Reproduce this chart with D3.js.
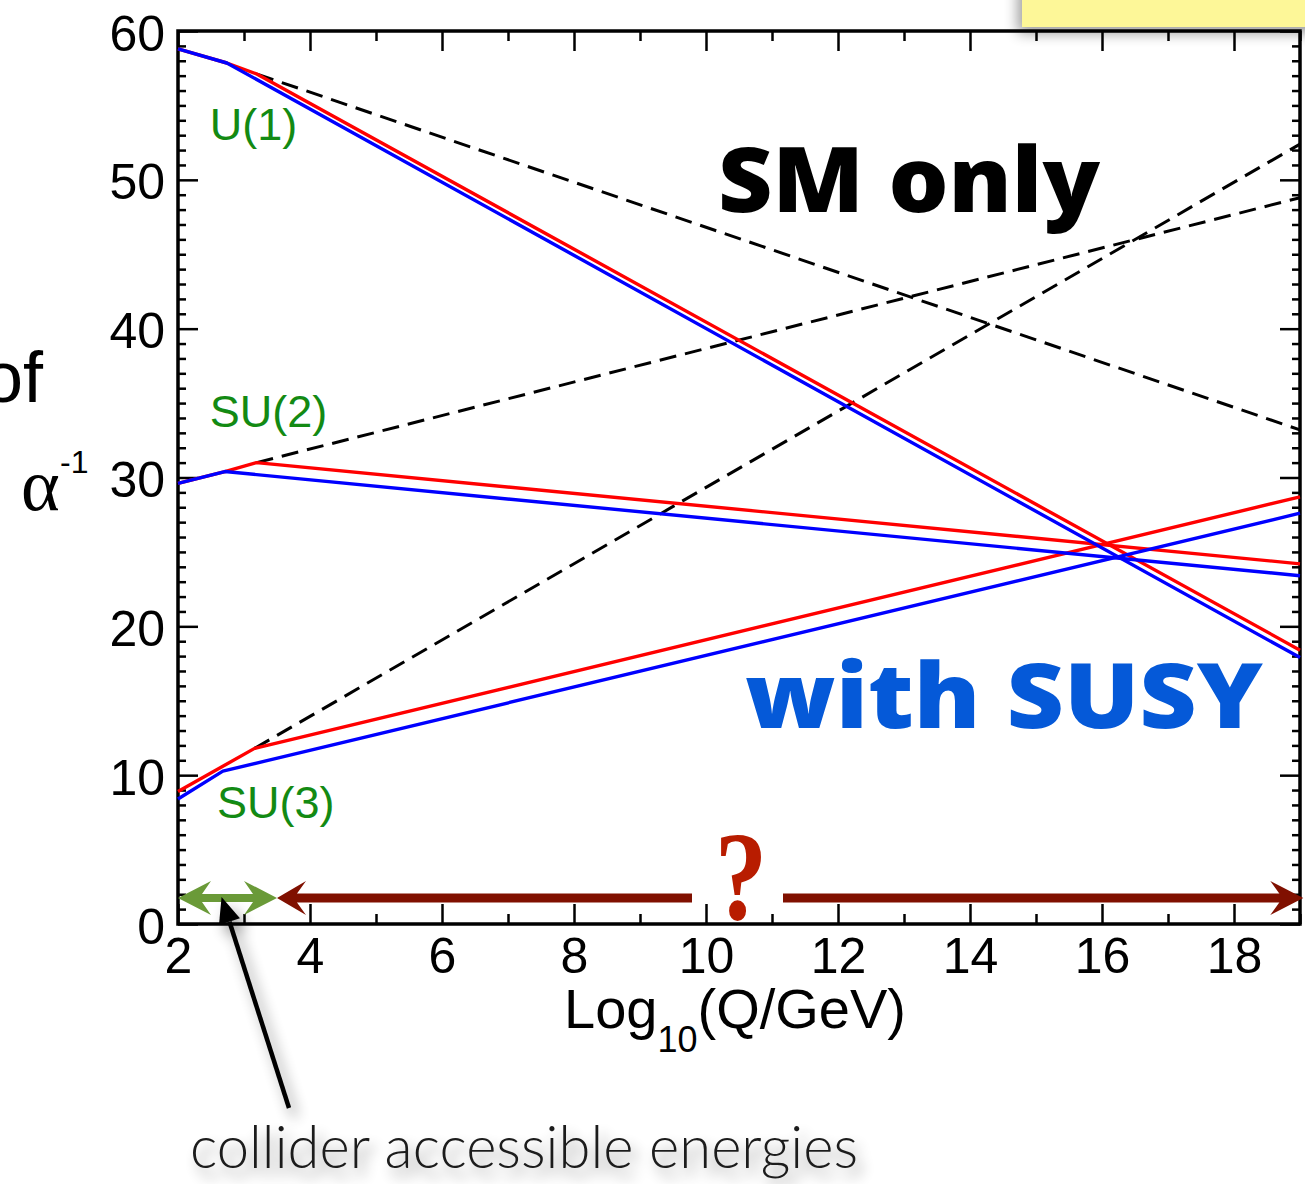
<!DOCTYPE html>
<html>
<head>
<meta charset="utf-8">
<script src="https://cdn.jsdelivr.net/npm/d3@7"></script>
<style>
  html, body { margin: 0; padding: 0; background: #fff; }
  svg { display: block; }
</style>
</head>
<body>
<svg id="chart" width="1305" height="1184"></svg>
<script>
// Inverse gauge couplings vs. energy scale: SM running (dashed) and MSSM running (solid)
const xDomain = [2, 19];
const yDomain = [0, 60];
const xMajorTicks = [2, 4, 6, 8, 10, 12, 14, 16, 18];
const yMajorTicks = [0, 10, 20, 30, 40, 50, 60];

// [log10(Q/GeV), alpha^-1] breakpoints for each curve
const u1Susy   = [[2, 58.8], [2.74, 57.85], [19, 17.9]];
const u1Mixed  = [[2, 58.8], [2.74, 57.85], [3.2, 57.1], [19, 18.4]];
const u1SM     = [[3.2, 57.1], [19, 33.2]];
const su2Susy  = [[2, 29.6], [2.71, 30.4], [19, 23.4]];
const su2Mixed = [[2, 29.6], [2.71, 30.4], [3.19, 31.0], [19, 24.2]];
const su2SM    = [[3.19, 31.0], [19, 48.8]];
const su3Susy  = [[2, 8.4], [2.68, 10.27], [19, 27.6]];
const su3Mixed = [[2, 8.9], [3.16, 11.8], [19, 28.7]];
const su3SM    = [[3.16, 11.8], [19, 52.4]];

const groupLabels = [
  { text: "U(1)",  x: 2.48, y: 52.7 },
  { text: "SU(2)", x: 2.48, y: 33.4 },
  { text: "SU(3)", x: 2.59, y: 7.1 }
];

// energy ranges marked along the bottom
const colliderRange = [2, 3.5];
const unknownRange  = [3.5, 19.05];
const rangeLevel = 1.75;

const svg = d3.select("#chart");
const W = 1305, H = 1184;
svg.append("rect").attr("width", W).attr("height", H).attr("fill", "#fff");

const x = d3.scaleLinear().domain(xDomain).range([178, 1300]);
const y = d3.scaleLinear().domain(yDomain).range([924, 31]);

const defs = svg.append("defs");
const shadow = defs.append("filter").attr("id", "shadow")
  .attr("x", "-30%").attr("y", "-30%").attr("width", "160%").attr("height", "180%");
shadow.append("feGaussianBlur").attr("in", "SourceAlpha").attr("stdDeviation", 7).attr("result", "b");
shadow.append("feOffset").attr("in", "b").attr("dx", 6).attr("dy", 9).attr("result", "o");
shadow.append("feComponentTransfer").attr("in", "o").attr("result", "s")
  .append("feFuncA").attr("type", "linear").attr("slope", 0.45);
const merge = shadow.append("feMerge");
merge.append("feMergeNode").attr("in", "s");
merge.append("feMergeNode").attr("in", "SourceGraphic");

const boxShadow = defs.append("filter").attr("id", "boxShadow")
  .attr("x", "-20%").attr("y", "-50%").attr("width", "140%").attr("height", "250%");
boxShadow.append("feGaussianBlur").attr("in", "SourceAlpha").attr("stdDeviation", 7).attr("result", "b");
boxShadow.append("feOffset").attr("in", "b").attr("dx", -4).attr("dy", 6).attr("result", "o");
boxShadow.append("feComponentTransfer").attr("in", "o").attr("result", "s")
  .append("feFuncA").attr("type", "linear").attr("slope", 0.4);
const bm = boxShadow.append("feMerge");
bm.append("feMergeNode").attr("in", "s");
bm.append("feMergeNode").attr("in", "SourceGraphic");

// sticky note in the corner
svg.append("rect")
  .attr("x", 1022).attr("y", -20).attr("width", 310).attr("height", 47)
  .attr("fill", "#fdf798").attr("filter", "url(#boxShadow)");

const sans = "'Liberation Sans', Arial, Helvetica, sans-serif";
const minorX = d3.range(2, 19.01, 1);
const minorY = d3.range(0, 60.01, 1);

// bottom axis
const gB = svg.append("g").attr("transform", `translate(0,${y(0)})`);
gB.call(d3.axisBottom(x).tickValues(minorX.filter(v => v % 2 !== 0)).tickSize(-10).tickFormat(""));
gB.call(g => g.selectAll(".tick line").attr("stroke-width", 2.5));
const gB2 = svg.append("g").attr("transform", `translate(0,${y(0)})`);
gB2.call(d3.axisBottom(x).tickValues(xMajorTicks).tickSize(-20).tickPadding(13).tickFormat(d3.format("d")));
gB2.selectAll(".tick line").attr("stroke-width", 2.5);
gB2.selectAll(".tick text").attr("font-family", sans).attr("font-size", 50).attr("fill", "#000");

// top axis
const gT = svg.append("g").attr("transform", `translate(0,${y(60)})`);
gT.call(d3.axisTop(x).tickValues(minorX).tickSize(0).tickFormat(""));
gT.selectAll(".tick line")
  .attr("y2", d => d % 2 === 0 ? 20 : 10).attr("stroke-width", 2.5);

// left axis
const gL = svg.append("g").attr("transform", `translate(${x(2)},0)`);
gL.call(d3.axisLeft(y).tickValues(minorY.filter(v => v % 10 !== 0)).tickSize(-8).tickFormat(""));
gL.selectAll(".tick line").attr("stroke-width", 2.5);
const gL2 = svg.append("g").attr("transform", `translate(${x(2)},0)`);
gL2.call(d3.axisLeft(y).tickValues(yMajorTicks).tickSize(-20).tickPadding(13).tickFormat(d3.format("d")));
gL2.selectAll(".tick line").attr("stroke-width", 2.5);
gL2.selectAll(".tick text").attr("font-family", sans).attr("font-size", 50).attr("fill", "#000").attr("dy", "0.38em");

// right axis
const gR = svg.append("g").attr("transform", `translate(${x(19)},0)`);
gR.call(d3.axisRight(y).tickValues(minorY).tickSize(0).tickFormat(""));
gR.selectAll(".tick line")
  .attr("x2", d => d % 10 === 0 ? -20 : -8).attr("stroke-width", 2.5);

svg.selectAll(".domain").remove();

// frame
svg.append("rect")
  .attr("x", x(2)).attr("y", y(60))
  .attr("width", x(19) - x(2)).attr("height", y(0) - y(60))
  .attr("fill", "none").attr("stroke", "#000").attr("stroke-width", 3.5);

// curves
const line = d3.line().x(d => x(d[0])).y(d => y(d[1]));
const curves = [
  { data: u1SM, color: "#000", dash: "17,9" },
  { data: su2SM, color: "#000", dash: "17,9" },
  { data: su3SM, color: "#000", dash: "17,9" },
  { data: u1Mixed, color: "#ff0000" },
  { data: su2Mixed, color: "#ff0000" },
  { data: su3Mixed, color: "#ff0000" },
  { data: u1Susy, color: "#0000ff" },
  { data: su2Susy, color: "#0000ff" },
  { data: su3Susy, color: "#0000ff" }
];
svg.append("g").selectAll("path").data(curves).join("path")
  .attr("d", d => line(d.data))
  .attr("fill", "none")
  .attr("stroke", d => d.color)
  .attr("stroke-width", d => d.dash ? 3 : 3.4)
  .attr("stroke-dasharray", d => d.dash || null)
  .attr("stroke-linejoin", "round");

// group labels
svg.append("g").selectAll("text").data(groupLabels).join("text")
  .attr("x", d => x(d.x)).attr("y", d => y(d.y))
  .attr("font-family", sans).attr("font-size", 45).attr("fill", "#138a13")
  .text(d => d.text);

// axis titles
const xt = svg.append("text").attr("x", 564).attr("y", 1028)
  .attr("font-family", sans).attr("font-size", 56).attr("fill", "#000");
xt.append("tspan").text("Log");
xt.append("tspan").attr("font-size", 36).attr("dy", 24).text("10");
xt.append("tspan").attr("dy", -24).text("(Q/GeV)");

svg.append("text").attr("x", 43).attr("y", 402).attr("text-anchor", "end")
  .attr("font-family", sans).attr("font-size", 72).attr("fill", "#000").text("of");
svg.append("text").attr("x", 21).attr("y", 510)
  .attr("font-family", "'Liberation Serif', 'Times New Roman', serif").attr("font-size", 74)
  .attr("fill", "#000").text("α");
svg.append("text").attr("x", 60).attr("y", 473)
  .attr("font-family", sans).attr("font-size", 32).attr("fill", "#000").text("-1");

// scenario captions
svg.append("text").attr("x", 718).attr("y", 212)
  .attr("font-family", "'Open Sans', Lato, sans-serif").attr("font-weight", 800)
  .attr("font-size", 90).attr("fill", "#000")
  .attr("textLength", 382).attr("lengthAdjust", "spacingAndGlyphs").text("SM only");
svg.append("text").attr("x", 745).attr("y", 728)
  .attr("font-family", "'Open Sans', Lato, sans-serif").attr("font-weight", 800)
  .attr("font-size", 90).attr("fill", "#0559d8")
  .attr("textLength", 518).attr("lengthAdjust", "spacingAndGlyphs").text("with SUSY");

// range arrows
function head(tx, ty, dir, len, half, sh) {
  const b = tx - dir * len, n = tx - dir * (len - 9);
  return `M${tx},${ty} L${b},${ty - half} L${n},${ty - sh} L${n},${ty + sh} L${b},${ty + half} Z`;
}
const ay = y(rangeLevel);
const arrows = svg.append("g");
// unknown region (dark red), split around the question mark
const gapL = 692, gapR = 783;
arrows.append("line").attr("x1", x(unknownRange[0]) + 20).attr("x2", gapL)
  .attr("y1", ay).attr("y2", ay).attr("stroke", "#801000").attr("stroke-width", 9);
arrows.append("line").attr("x1", gapR).attr("x2", x(unknownRange[1]) - 20)
  .attr("y1", ay).attr("y2", ay).attr("stroke", "#801000").attr("stroke-width", 9);
arrows.append("path").attr("d", head(x(unknownRange[0]), ay, -1, 29, 17, 4.5)).attr("fill", "#801000");
arrows.append("path").attr("d", head(x(unknownRange[1]), ay, 1, 33, 17, 4.5)).attr("fill", "#801000");
// collider region (green)
arrows.append("line").attr("x1", x(colliderRange[0]) + 20).attr("x2", x(colliderRange[1]) - 20)
  .attr("y1", ay).attr("y2", ay).attr("stroke", "#6a9a38").attr("stroke-width", 8);
arrows.append("path").attr("d", head(x(colliderRange[0]), ay, -1, 33, 17, 4)).attr("fill", "#6a9a38");
arrows.append("path").attr("d", head(x(colliderRange[1]), ay, 1, 33, 17, 4)).attr("fill", "#6a9a38");

svg.append("text")
  .attr("transform", `translate(741,919) scale(0.82,1)`)
  .attr("text-anchor", "middle")
  .attr("font-family", "'Liberation Serif', 'DejaVu Serif', serif").attr("font-weight", "bold")
  .attr("font-size", 128).attr("fill", "#b81c00").text("?");

// pointer to the collider range
const pointer = svg.append("g").attr("filter", "url(#shadow)");
const tip = [x(2.66), ay - 1], tail = [289, 1108];
const ang = Math.atan2(tip[1] - tail[1], tip[0] - tail[0]);
const hl = 26, hw = 11;
const bx = tip[0] - hl * Math.cos(ang), by = tip[1] - hl * Math.sin(ang);
pointer.append("line").attr("x1", tail[0]).attr("y1", tail[1]).attr("x2", bx).attr("y2", by)
  .attr("stroke", "#000").attr("stroke-width", 4.5);
pointer.append("path")
  .attr("d", `M${tip[0]},${tip[1]} L${bx + hw * Math.sin(ang)},${by - hw * Math.cos(ang)} L${bx - hw * Math.sin(ang)},${by + hw * Math.cos(ang)} Z`)
  .attr("fill", "#000");

svg.append("text").attr("x", 190).attr("y", 1168)
  .attr("font-family", "Lato, 'Open Sans', sans-serif").attr("font-weight", 300)
  .attr("font-size", 60).attr("fill", "#1a1a1a")
  .attr("textLength", 668).attr("lengthAdjust", "spacingAndGlyphs")
  .attr("filter", "url(#shadow)")
  .text("collider accessible energies");
</script>
</body>
</html>
